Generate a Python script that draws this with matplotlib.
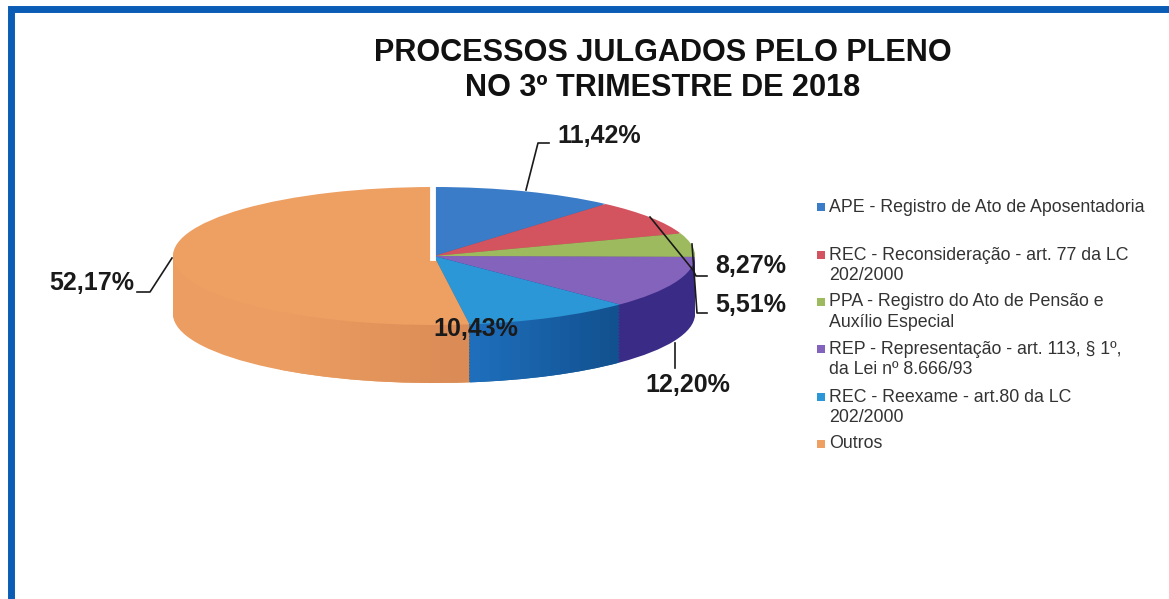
import matplotlib
matplotlib.use('Agg')
import matplotlib.pyplot as plt
from matplotlib.colors import to_rgb
from matplotlib.patches import Rectangle

plt.rcParams['font.family'] = ['Liberation Sans', 'DejaVu Sans']

W, H = 1169, 599

title_lines = ['PROCESSOS JULGADOS PELO PLENO', 'NO 3º TRIMESTRE DE 2018']

categories = [
    'APE - Registro de Ato de Aposentadoria',
    'REC - Reconsideração - art. 77 da LC\n202/2000',
    'PPA - Registro do Ato de Pensão e\nAuxílio Especial',
    'REP - Representação - art. 113, § 1º,\nda Lei nº 8.666/93',
    'REC - Reexame - art.80 da LC\n202/2000',
    'Outros',
]
values = [11.42, 8.27, 5.51, 12.20, 10.43, 52.17]
value_labels = ['11,42%', '8,27%', '5,51%', '12,20%', '10,43%', '52,17%']

top_colors = ['#3a7cc8', '#d3545f', '#9dbb5e', '#8463bd', '#2b97d6', '#ee9f62']
side_colors = ['#2a5f9e', '#a33d47', '#76913f', '#3a2c86', '#14609f', '#ec9d61']

# side wall shading: slice index, from x, to x (image pixels), start and end colour
side_shades = [
    (5, 280, 470, '#ec9d61', '#d98a55'),
    (4, 470, 620, '#1e6ebc', '#114f8c'),
]
band_width = 10

# pie geometry in pixels of the image
cx, cy = 434, 256
rx, ry = 261, 69
depth = 58
pad = 4
n_layers = 40

fig = plt.figure(figsize=(W / 100, H / 100), dpi=100, facecolor='white')

# axes scaled so that a unit pie comes out as the flat ellipse
left = cx - rx - pad
bottom = cy + ry + depth + pad
ax = fig.add_axes([left / W, 1 - bottom / H, (2 * rx + 2 * pad) / W, (2 * ry + depth + 2 * pad) / H])
offsets = [-(depth / ry) * (n_layers - i) / n_layers for i in range(n_layers)]

for off in offsets:
    ax.pie(values, startangle=90, counterclock=False, colors=side_colors, center=(0, off), frame=False)

for idx, x_start, x_end, c0, c1 in side_shades:
    for x0 in range(x_start, x_end, band_width):
        t = (x0 - x_start) / (x_end - x_start)
        col = [a + (b - a) * t for a, b in zip(to_rgb(c0), to_rgb(c1))]
        band_colors = ['none'] * len(values)
        band_colors[idx] = col
        x1 = min(x0 + band_width, x_end)
        clip = Rectangle(((x0 - cx) / rx, -3), (x1 - x0) / rx, 6, transform=ax.transData)
        for off in offsets:
            wedges, _ = ax.pie(values, startangle=90, counterclock=False, colors=band_colors,
                               center=(0, off), frame=False)
            # pie turns clipping off on its wedges
            wedges[idx].set_clip_on(True)
            wedges[idx].set_clip_path(clip)

ax.pie(values, startangle=90, counterclock=False, colors=top_colors, frame=False)
ax.set_aspect('auto')
ax.set_xlim(-1 - pad / rx, 1 + pad / rx)
ax.set_ylim(-1 - (depth + pad) / ry, 1 + pad / ry)
ax.axis('off')

# everything else is placed in image pixels
over = fig.add_axes([0, 0, 1, 1], zorder=5)
over.set_xlim(0, W)
over.set_ylim(H, 0)
over.axis('off')
over.patch.set_alpha(0)

# frame, only top and left are on the scan
over.plot([11, 11, W], [H, 8.5, 8.5], color='#0b5cb5', lw=5, solid_joinstyle='miter')

# white gap at the start of the pie
over.plot([cx - 1, cx - 1], [cy + 2, cy - ry - 2], color='white', lw=4.2)

over.text(663, 53, title_lines[0], ha='center', va='center', fontsize=22.1, fontweight='bold', color='#111111')
over.text(663, 88, title_lines[1], ha='center', va='center', fontsize=22.1, fontweight='bold', color='#111111')

# leader lines
leaders = [
    ([526, 538, 549], [190, 143, 143]),
    ([650, 693, 696, 707], [217, 270, 276, 276]),
    ([692, 697, 707], [244, 313, 313]),
    ([675, 675], [343, 368]),
    ([172, 150, 137], [258, 292, 292]),
]
for xs, ys in leaders:
    over.plot(xs, ys, color='#1a1a1a', lw=1.2)

label_pos = [(557, 136), (715, 266), (715, 305), (645, 385), (433, 329), (49, 283)]
for (x, y), s in zip(label_pos, value_labels):
    over.text(x, y, s, ha='left', va='center', fontsize=18, fontweight='bold', color='#1a1a1a')

# legend
legend_y = [207, 255, 302, 349, 397, 444]
for y, c, s in zip(legend_y, top_colors, categories):
    over.scatter([821], [y], marker='s', s=30, color=c, linewidths=0)
    over.text(829, y - 8.5, s, ha='left', va='top', fontsize=12.8, color='#333333', linespacing=1.24)

fig.savefig('out.png', dpi=100, facecolor='white')
